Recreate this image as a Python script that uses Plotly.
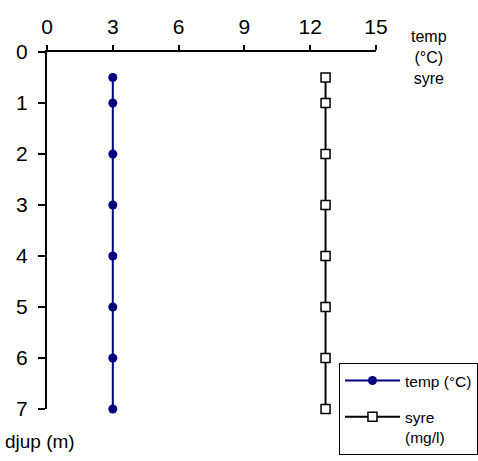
import plotly.graph_objects as go

depth = [0.5, 1, 2, 3, 4, 5, 6, 7]
temp = [3, 3, 3, 3, 3, 3, 3, 3]
syre = [12.7, 12.7, 12.7, 12.7, 12.7, 12.7, 12.7, 12.7]
x_ticks = [0, 3, 6, 9, 12, 15]
y_ticks = [0, 1, 2, 3, 4, 5, 6, 7]

FAM = "Liberation Sans, Arial, sans-serif"

fig = go.Figure()
fig.add_trace(go.Scatter(
    x=temp, y=depth, mode="lines+markers", name="temp (°C)",
    legendgroup="a",
    line=dict(color="#000080", width=2),
    marker=dict(symbol="circle", size=9, color="#000080"),
    cliponaxis=False,
))
fig.add_trace(go.Scatter(
    x=syre, y=depth, mode="lines+markers", name="syre<br>(mg/l)",
    legendgroup="b",
    line=dict(color="black", width=2),
    marker=dict(symbol="square", size=9, color="white", line=dict(color="black", width=1.5)),
    cliponaxis=False,
))

fig.update_layout(
    width=478, height=461,
    margin=dict(l=47, r=102, t=52, b=52, autoexpand=False),
    paper_bgcolor="white", plot_bgcolor="white",
    font=dict(family=FAM, size=21, color="black"),
    showlegend=True,
    legend=dict(
        x=0.8875, y=0.129, xanchor="left", yanchor="top",
        bordercolor="black", borderwidth=1, bgcolor="white",
        font=dict(family=FAM, size=15.5, color="black"),
        traceorder="grouped", tracegroupgap=13, valign="top",
        itemwidth=55,
    ),
    xaxis=dict(
        side="top", range=[0, 15], tickvals=x_ticks, ticktext=[str(v) for v in x_ticks],
        showline=True, linecolor="black", linewidth=2,
        ticks="outside", ticklen=5, tickwidth=2, tickcolor="black",
        showgrid=False, zeroline=False, ticklabelstandoff=3, automargin=False,
    ),
    yaxis=dict(
        range=[7, 0], tickvals=y_ticks, ticktext=[str(v) for v in y_ticks],
        showline=True, linecolor="black", linewidth=2,
        ticks="outside", ticklen=7, tickwidth=2, tickcolor="black",
        showgrid=False, zeroline=False, ticklabelstandoff=6, automargin=False,
    ),
    annotations=[
        dict(text="temp<br>(°C)<br>syre", x=1.16, y=1.072, xref="paper", yref="paper",
             xanchor="center", yanchor="top", showarrow=False,
             font=dict(family=FAM, size=16, color="black")),
        dict(text="djup (m)", x=-0.134, y=-0.092, xref="paper", yref="paper",
             xanchor="left", yanchor="middle", showarrow=False,
             font=dict(family=FAM, size=19, color="black")),
    ],
)

fig.write_html("out.html", config={"displayModeBar": False},
               post_script="document.body.style.margin='0';")
